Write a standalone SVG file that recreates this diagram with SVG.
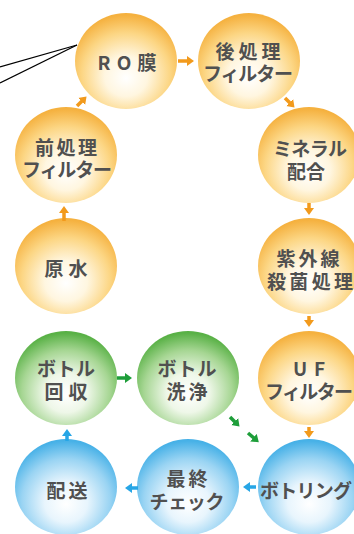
<svg xmlns="http://www.w3.org/2000/svg" width="354" height="534" viewBox="0 0 354 534">
<defs>
<radialGradient id="gO" cx="50%" cy="62%" r="60%" fx="50%" fy="68%">
<stop offset="0" stop-color="#FFFFFF"/><stop offset="0.35" stop-color="#FFF6E0"/><stop offset="0.72" stop-color="#FCD684"/><stop offset="1" stop-color="#F5B13F"/>
</radialGradient>
<radialGradient id="gG" cx="50%" cy="62%" r="60%" fx="50%" fy="68%">
<stop offset="0" stop-color="#FFFFFF"/><stop offset="0.35" stop-color="#EEF7E8"/><stop offset="0.72" stop-color="#A6D693"/><stop offset="1" stop-color="#59B146"/>
</radialGradient>
<radialGradient id="gB" cx="50%" cy="62%" r="60%" fx="50%" fy="68%">
<stop offset="0" stop-color="#FFFFFF"/><stop offset="0.35" stop-color="#E8F5FD"/><stop offset="0.72" stop-color="#9AD4F3"/><stop offset="1" stop-color="#47B1E7"/>
</radialGradient>
<marker id="hO" markerUnits="userSpaceOnUse" markerWidth="12" markerHeight="12" refX="2" refY="5" orient="auto"><path d="M0,0 L7,5 L0,10 z" fill="#F29A1C"/></marker>
<marker id="hG" markerUnits="userSpaceOnUse" markerWidth="12" markerHeight="12" refX="2" refY="5" orient="auto"><path d="M0,0 L7,5 L0,10 z" fill="#1E9E3A"/></marker>
<marker id="hB" markerUnits="userSpaceOnUse" markerWidth="12" markerHeight="12" refX="2" refY="5" orient="auto"><path d="M0,0 L7,5 L0,10 z" fill="#27A6E6"/></marker>
</defs>
<style>
.t{font-family:"Noto Sans CJK JP","Noto Sans",sans-serif;font-weight:bold;font-size:19px;fill:#505050;text-anchor:middle;dominant-baseline:central}
.aO{stroke:#F29A1C;stroke-width:3.5;fill:none;marker-end:url(#hO)}
.aG{stroke:#1E9E3A;stroke-width:3.5;fill:none;marker-end:url(#hG)}
.aB{stroke:#27A6E6;stroke-width:3.5;fill:none;marker-end:url(#hB)}
</style>
<rect width="354" height="534" fill="#FFFFFF"/>
<g id="n-ro"><ellipse cx="126" cy="61" rx="51" ry="48" fill="url(#gO)"/><text class="t" x="127" y="61" textLength="59">RO膜</text></g>
<g id="n-post"><ellipse cx="249" cy="61" rx="51" ry="48" fill="url(#gO)"/><text class="t" x="248" y="50" textLength="65">後処理</text><text class="t" x="248" y="72" textLength="90">フィルター</text></g>
<g id="n-pre"><ellipse cx="66" cy="155" rx="51" ry="48" fill="url(#gO)"/><text class="t" x="66" y="146" textLength="62">前処理</text><text class="t" x="67" y="168" textLength="90">フィルター</text></g>
<g id="n-mineral"><ellipse cx="309" cy="155" rx="51" ry="48" fill="url(#gO)"/><text class="t" x="310" y="147" textLength="74">ミネラル</text><text class="t" x="306" y="170" textLength="38">配合</text></g>
<g id="n-raw"><ellipse cx="66" cy="266" rx="51" ry="48" fill="url(#gO)"/><text class="t" x="66" y="267" textLength="43">原水</text></g>
<g id="n-uv"><ellipse cx="309" cy="266" rx="51" ry="48" fill="url(#gO)"/><text class="t" x="308" y="257" textLength="63">紫外線</text><text class="t" x="310" y="280" textLength="86">殺菌処理</text></g>
<g id="n-collect"><ellipse cx="66" cy="378" rx="51" ry="47" fill="url(#gG)"/><text class="t" x="66" y="367" textLength="58">ボトル</text><text class="t" x="66" y="390" textLength="43">回収</text></g>
<g id="n-wash"><ellipse cx="188" cy="378" rx="51" ry="47" fill="url(#gG)"/><text class="t" x="187" y="367" textLength="59">ボトル</text><text class="t" x="187" y="390" textLength="41">洗浄</text></g>
<g id="n-uf"><ellipse cx="309" cy="378" rx="51" ry="47" fill="url(#gO)"/><text class="t" x="309" y="367" textLength="32">UF</text><text class="t" x="309" y="390" textLength="88">フィルター</text></g>
<g id="n-deliver"><ellipse cx="66" cy="487" rx="51" ry="48" fill="url(#gB)"/><text class="t" x="67" y="489" textLength="41">配送</text></g>
<g id="n-check"><ellipse cx="188" cy="487" rx="51" ry="48" fill="url(#gB)"/><text class="t" x="187" y="477" textLength="41">最終</text><text class="t" x="187" y="500" textLength="75">チェック</text></g>
<g id="n-bottling"><ellipse cx="309" cy="487" rx="51" ry="48" fill="url(#gB)"/><text class="t" x="306" y="489" textLength="92">ボトリング</text></g>
<g id="connectors">
<line x1="77" y1="45" x2="0" y2="67" stroke="#000" stroke-width="1.3"/>
<line x1="77" y1="45" x2="0" y2="83" stroke="#000" stroke-width="1.3"/>
<line class="aO" x1="77" y1="106" x2="83" y2="100"/>
<line class="aO" x1="178" y1="61" x2="189" y2="61"/>
<line class="aO" x1="285" y1="98" x2="291" y2="104"/>
<line class="aO" x1="64" y1="221" x2="64" y2="211"/>
<line class="aO" x1="309" y1="203" x2="309" y2="210"/>
<line class="aO" x1="309" y1="316" x2="309" y2="322"/>
<line class="aO" x1="309" y1="427" x2="309" y2="433"/>
<line class="aG" x1="117" y1="378" x2="127" y2="378"/>
<line class="aG" x1="230" y1="417" x2="236" y2="423"/>
<line class="aG" x1="248" y1="433" x2="255" y2="439"/>
<line class="aB" x1="256" y1="487" x2="248" y2="487"/>
<line class="aB" x1="138" y1="488" x2="130" y2="488"/>
<line class="aB" x1="67" y1="441" x2="67" y2="434"/>
</g>
</svg>
